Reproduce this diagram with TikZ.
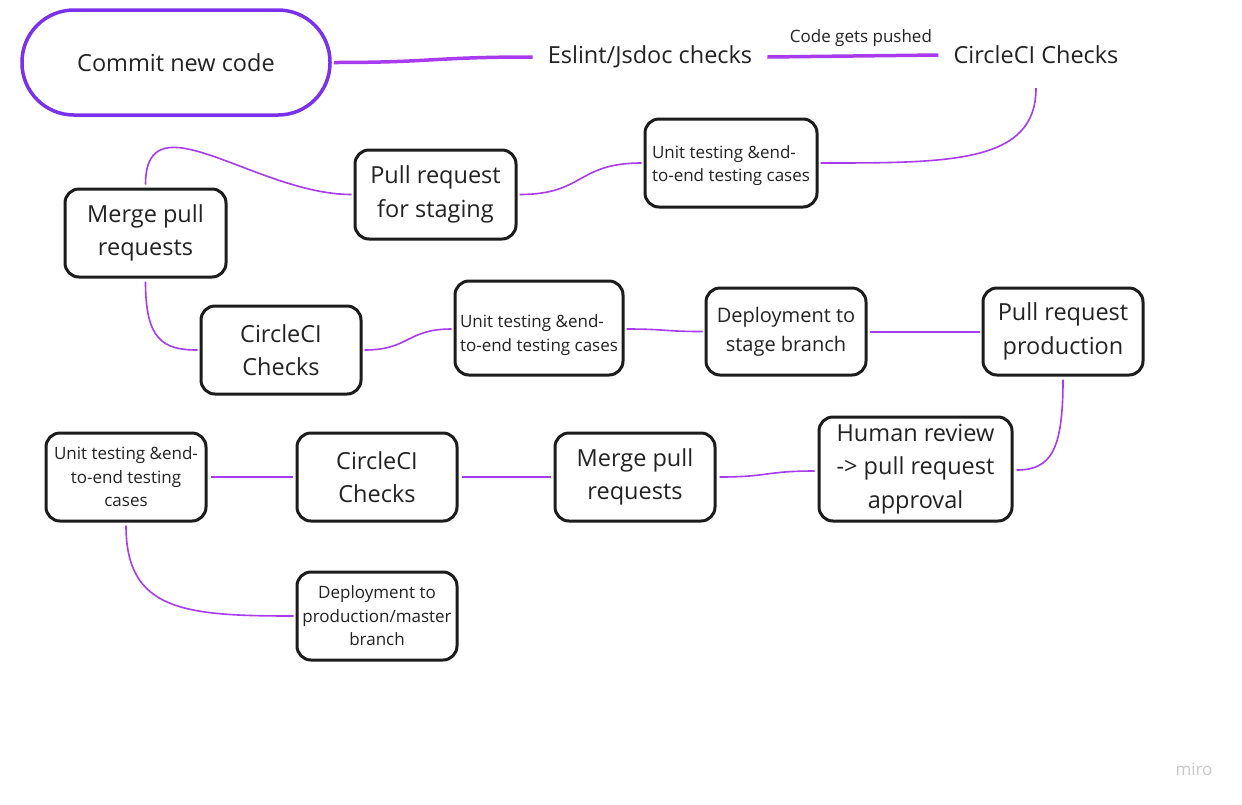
\documentclass[tikz,border=0pt]{standalone}
\usepackage{fontspec}
\setmainfont{Open Sans}
\definecolor{boxc}{HTML}{1C1C1C}
\definecolor{txtc}{HTML}{222222}
\definecolor{pillc}{HTML}{7B30EC}
\definecolor{linec}{HTML}{A93BEF}
\definecolor{miroc}{HTML}{C8C8CC}
\newcommand\bigf{\fontsize{23.5}{33.5}\selectfont}
\newcommand\midf{\fontsize{20}{29}\selectfont}
\newcommand\smallf{\fontsize{17}{23.5}\selectfont}
\tikzset{
  box/.style={draw=boxc, line width=3pt, rounded corners=14pt, fill=white,
    inner sep=2pt, align=center, text=txtc, font=\bigf,
    minimum width=160pt, minimum height=88pt},
  plain/.style={inner xsep=15pt, inner ysep=0pt, text=txtc, font=\bigf, minimum height=66pt},
  connline/.style={draw=linec, line width=1.6pt},
  connthick/.style={draw=linec, line width=3.5pt},
  lowtext/.style={label={[yshift=-#1, align=left, font=\smallf, text=txtc]center:{Unit testing \&end-\\to-end testing cases}}},
}
\begin{document}
\begin{tikzpicture}[x=1pt,y=-1pt]
\fill[white] (0,0) rectangle (1242,804);
\useasboundingbox (0,0) rectangle (1242,804);

% nodes
\node[draw=pillc, line width=3.5pt, rounded corners=52pt, minimum width=308pt,
      minimum height=105pt, text=txtc, font=\bigf] (commit) at (176,62.5) {Commit new code};
\node[plain] (eslint) at (650,57) {Eslint/Jsdoc checks};
\node[plain] (circ1) at (1036,55) {CircleCI Checks};

\node[box, minimum width=172pt, lowtext=2.5pt] (unit1) at (731,163) {};
\node[box, minimum width=161pt, minimum height=89pt] (prs) at (435.5,194.5)
  {Pull request\\for staging};
\node[box, minimum width=161pt] (merge1) at (145.5,233) {Merge pull\\requests};
\node[box] (circ2) at (281,350) {CircleCI\\Checks};
\node[box, minimum width=168pt, minimum height=94pt, lowtext=7pt] (unit2) at (539,328) {};
\node[box, font=\midf, minimum height=87pt] (dstage) at (786,331.5)
  {Deployment to\\stage branch};
\node[box, minimum height=87pt] (prprod) at (1063,331.5)
  {Pull request\\production};
\node[box, minimum width=193pt, minimum height=104pt] (human) at (915.5,469)
  {Human review\\-> pull request\\approval};
\node[box] (merge2) at (635,477) {Merge pull\\requests};
\node[box] (circ3) at (377,477) {CircleCI\\Checks};
\node[box, font=\smallf] (unit3) at (126,477)
  {Unit testing \&end-\\to-end testing\\cases};
\node[box, font=\smallf] (dprod) at (377,616)
  {Deployment to\\production/master\\branch};

\node[text=miroc, font=\fontsize{17}{20}\selectfont] (miro) at (1194,769) {miro};

% connectors
\draw[connthick] ([xshift=2pt]commit.east) .. controls +(100,0) and +(-100,0) .. (eslint.west);
\draw[connthick] (eslint.east) -- (circ1.west)
  node[midway, above=4pt, xshift=8pt, text=txtc, font=\smallf] (pushed) {Code gets pushed};
\draw[connline] (circ1.south) .. controls +(0,75) and +(130,0) .. ([xshift=2pt]unit1.east);
\draw[connline] ([xshift=-2pt]unit1.west) .. controls +(-65,0) and +(65,0) .. ([xshift=2pt]prs.east);
\draw[connline] ([xshift=-2pt]prs.west) .. controls +(-95,0) and +(0,-89) .. ([yshift=3pt]merge1.north);
\draw[connline] ([yshift=-3pt]merge1.south) .. controls +(0,58) and +(-35,0) .. ([xshift=-2pt]circ2.west);
\draw[connline] ([xshift=2pt]circ2.east) .. controls +(45,0) and +(-45,0) .. ([xshift=-2pt,yshift=-1pt]unit2.west);
\draw[connline] ([xshift=2pt,yshift=-1pt]unit2.east) .. controls +(40,0) and +(-40,0) .. ([xshift=-2pt]dstage.west);
\draw[connline] ([xshift=2pt,yshift=-0.5pt]dstage.east) -- ([xshift=-2pt,yshift=-0.5pt]prprod.west);
\draw[connline] ([yshift=-3pt]prprod.south) .. controls +(0,70) and +(35,0) .. ([xshift=3pt,yshift=-1pt]human.east);
\draw[connline] ([xshift=-3pt,yshift=-2pt]human.west) .. controls +(-50,0) and +(50,0) .. ([xshift=3pt]merge2.east);
\draw[connline] ([xshift=-3pt]merge2.west) -- ([xshift=3pt]circ3.east);
\draw[connline] ([xshift=-3pt]circ3.west) -- ([xshift=3pt]unit3.east);
\draw[connline] ([yshift=-3pt]unit3.south) .. controls +(0,85) and +(-110,0) .. ([xshift=-2pt]dprod.west);
\end{tikzpicture}
\end{document}
